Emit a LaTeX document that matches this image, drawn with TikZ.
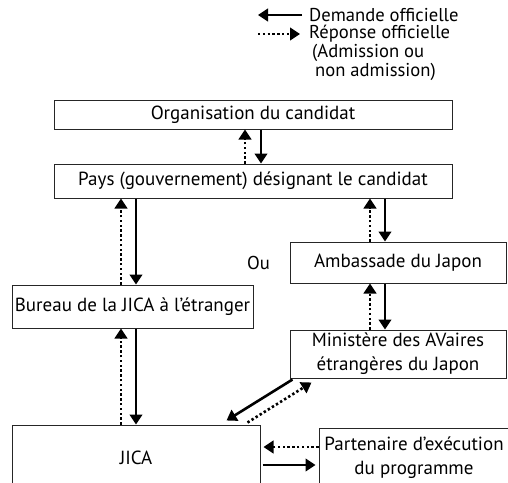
\documentclass[tikz,border=0pt]{standalone}
\usepackage{fontspec}
\setmainfont{PT Sans}
\usetikzlibrary{arrows.meta,calc}
\begin{document}
\begin{tikzpicture}[x=1pt,y=-1pt,
  box/.style={draw=black!85,line width=1pt,inner sep=0pt,align=center,font=\fontsize{19}{24}\selectfont},
  lbl/.style={inner sep=0pt,font=\fontsize{18.6}{19}\selectfont,anchor=west},
  req/.style={line width=2.6pt,-{Triangle[length=10pt,width=12.5pt]}},
  rep/.style={line width=2.6pt,dash pattern=on 2.4pt off 2.4pt,-{Triangle[length=10pt,width=12.5pt]}}]
\useasboundingbox (0,0) rectangle (508,482);
\clip (0,0) rectangle (508,482);
% boxes
\node[box,minimum width=398,minimum height=29] (org) at (253,114.5) {Organisation du candidat};
\node[box,minimum width=398,minimum height=34] (pays) at (253,181) {Pays (gouvernement) désignant le candidat};
\node[box,minimum width=241,minimum height=43] (bur) at (132.5,306.5) {Bureau de la JICA à l’étranger};
\node[box,minimum width=216,minimum height=41] (amb) at (398,262.5) {Ambassade du Japon};
\node[box,minimum width=216,minimum height=48] (min) at (398,354) {Ministère des AVaires\\étrangères du Japon};
\node[box,minimum width=248,minimum height=65] (jica) at (136,457.5) {JICA};
\node[box,minimum width=190,minimum height=60] (part) at (414,458) {Partenaire d’exécution\\du programme};
\node[lbl] (ou) at (247,263) {Ou};
% legend
\coordinate (l1a) at (302,15);
\coordinate (l1b) at (258,15);
\coordinate (l2a) at (258,34);
\coordinate (l2b) at (300,34);
\node[lbl] (leg1) at (309,15) {Demande officielle};
\node[lbl] (leg2) at (309,34) {Réponse officielle};
\node[lbl] (leg3) at (312,53) {(Admission ou};
\node[lbl] (leg4) at (315,72) {non admission)};
\draw[req] (l1a) -- (l1b);
\draw[rep] (l2a) -- (l2b);
% org - pays
\draw[req] (org.south -| 261,0) -- (pays.north -| 261,0);
\draw[rep] (pays.north -| 245,0) -- (org.south -| 245,0);
% pays - bureau
\draw[req] (pays.south -| 136,0) -- (bur.north -| 136,0);
\draw[rep] (bur.north -| 121,0) -- (pays.south -| 121,0);
% pays - amb
\draw[req] (pays.south -| 385,0) -- (amb.north -| 385,0);
\draw[rep] (amb.north -| 370,0) -- (pays.south -| 370,0);
% amb - min
\draw[req] (amb.south -| 385,0) -- (min.north -| 385,0);
\draw[rep] (min.north -| 370,0) -- (amb.south -| 370,0);
% bureau - jica
\draw[req] (bur.south -| 136,0) -- (jica.north -| 136,0);
\draw[rep] (jica.north -| 121,0) -- (bur.south -| 121,0);
% min - jica diagonal
\draw[req] ($(min.south west)+(3,1)$) -- ($(jica.north east)+(-34,-4)$);
\draw[rep] ($(jica.north east)+(-13,-2)$) -- ($(min.south west)+(22,4)$);
% jica - part
\draw[rep] (part.west |- 0,447) -- ($(jica.east |- 0,447)+(3,0)$);
\draw[req] ($(jica.east |- 0,465)+(2,0)$) -- ($(part.west |- 0,465)+(-3,0)$);
\end{tikzpicture}
\end{document}
